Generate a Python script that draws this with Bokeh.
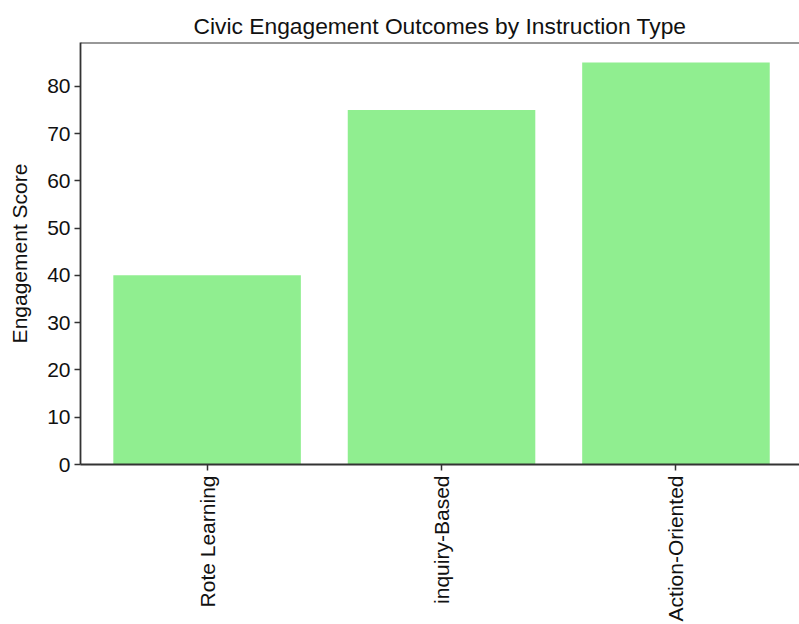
import math
from bokeh.plotting import figure
from bokeh.models import Range1d, FixedTicker, Span
from bokeh.embed import file_html
from bokeh.resources import INLINE

categories = ["Rote Learning", "inquiry-Based", "Action-Oriented"]
scores = [40, 75, 85]
y_ticks = [0, 10, 20, 30, 40, 50, 60, 70, 80]

positions = list(range(len(categories)))
ymax = max(scores) * 1.05

FONT = "Liberation Sans"
TEXT = "#111111"
SPINE = "#333333"

p = figure(width=799, height=624, output_backend="svg", toolbar_location=None,
           x_range=Range1d(-0.54, 2.527), y_range=Range1d(0, ymax),
           min_border_left=80, min_border_right=0, min_border_top=42, min_border_bottom=159)

p.vbar(x=positions, top=scores, width=0.8, color="#90EE90", line_color=None)

p.title.text = "Civic Engagement Outcomes by Instruction Type"
p.title.align = "center"
p.title.text_font = FONT
p.title.text_font_size = "22.8px"
p.title.text_font_style = "normal"
p.title.text_color = TEXT
p.title.standoff = 8

p.grid.visible = False
p.outline_line_color = None
p.background_fill_color = "white"
p.border_fill_color = "white"

for ax in (p.xaxis[0], p.yaxis[0]):
    ax.axis_line_color = SPINE
    ax.axis_line_width = 1.8
    ax.major_tick_line_color = SPINE
    ax.major_tick_line_width = 1.5
    ax.major_tick_in = 0
    ax.major_tick_out = 6
    ax.minor_tick_line_color = None
    ax.major_label_text_font = FONT
    ax.major_label_text_font_size = "21px"
    ax.major_label_text_color = TEXT

p.xaxis.ticker = FixedTicker(ticks=positions)
p.xaxis.major_label_overrides = {i: c for i, c in zip(positions, categories)}
p.xaxis.major_label_orientation = math.pi / 2
p.xaxis.major_label_standoff = 5

p.yaxis.ticker = FixedTicker(ticks=y_ticks)
p.yaxis.major_label_standoff = 4
p.yaxis.axis_label = "Engagement Score"
p.yaxis.axis_label_text_font = FONT
p.yaxis.axis_label_text_font_size = "21px"
p.yaxis.axis_label_text_font_style = "normal"
p.yaxis.axis_label_text_color = TEXT
p.yaxis.axis_label_standoff = 13

top = Span(location=ymax, dimension="width", line_color=SPINE, line_width=1.8)
p.add_layout(top)

open("out.html", "w").write(file_html(p, INLINE))
